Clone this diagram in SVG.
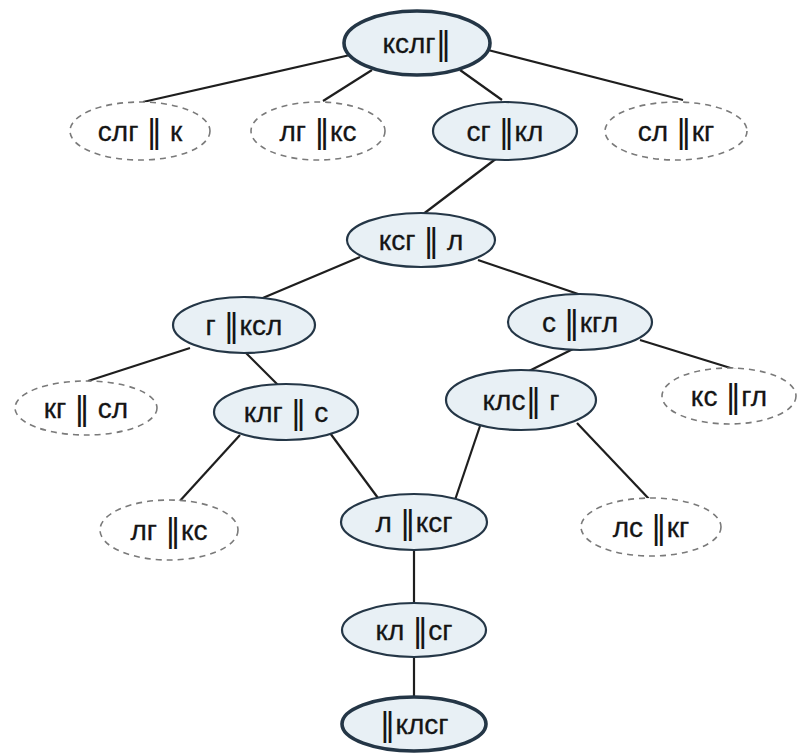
<svg xmlns="http://www.w3.org/2000/svg" width="798" height="755" viewBox="0 0 798 755">
<style>
.s{fill:#e8f0f5;stroke:#243646;stroke-width:2.2}
.b{fill:#e8f0f5;stroke:#243646;stroke-width:3.6}
.d{fill:#fff;stroke:#7a7a7a;stroke-width:1.6;stroke-dasharray:6 5}
text{font-family:"Liberation Sans","DejaVu Sans",sans-serif;font-size:28px;fill:#151515;text-anchor:middle;dominant-baseline:central;stroke:#151515;stroke-width:0.3}
.p{font-family:"DejaVu Sans",sans-serif;font-size:32px;stroke-width:0}
#edges line{stroke:#1e1e1e;stroke-width:2.2}
</style>
<rect width="798" height="755" fill="#fff"/>
<g id="edges">
<line x1="350" y1="55" x2="143" y2="102"/>
<line x1="372" y1="70" x2="323" y2="101"/>
<line x1="460" y1="70" x2="502" y2="100"/>
<line x1="488" y1="50" x2="683" y2="100"/>
<line x1="497" y1="158" x2="422" y2="215"/>
<line x1="360" y1="257" x2="258" y2="300"/>
<line x1="478" y1="260" x2="584" y2="296"/>
<line x1="190" y1="348" x2="88" y2="381"/>
<line x1="243" y1="350" x2="281" y2="388"/>
<line x1="240" y1="435" x2="178" y2="503"/>
<line x1="330" y1="433" x2="378" y2="498"/>
<line x1="575" y1="348" x2="527" y2="372"/>
<line x1="640" y1="340" x2="737" y2="370"/>
<line x1="480" y1="426" x2="455" y2="500"/>
<line x1="577" y1="423" x2="650" y2="500"/>
<line x1="414" y1="545" x2="414" y2="605"/>
<line x1="414" y1="650" x2="414" y2="700"/>
</g>
<g id="n1"><ellipse class="b" cx="417" cy="43" rx="73" ry="32"/><text x="417" y="43">кслг<tspan class="p">‖</tspan></text></g>
<g id="n2"><ellipse class="d" cx="140" cy="131" rx="70" ry="29"/><text x="140" y="131">слг <tspan class="p">‖</tspan> к</text></g>
<g id="n3"><ellipse class="d" cx="318" cy="131" rx="67" ry="29"/><text x="318" y="131">лг <tspan class="p">‖</tspan>кс</text></g>
<g id="n4"><ellipse class="s" cx="505" cy="131" rx="72" ry="29"/><text x="505" y="131">сг <tspan class="p">‖</tspan>кл</text></g>
<g id="n5"><ellipse class="d" cx="676" cy="131" rx="71" ry="29"/><text x="676" y="131">сл <tspan class="p">‖</tspan>кг</text></g>
<g id="n6"><ellipse class="s" cx="421" cy="240" rx="74" ry="27"/><text x="421" y="240">ксг <tspan class="p">‖</tspan> л</text></g>
<g id="n7"><ellipse class="s" cx="244" cy="325" rx="71" ry="28"/><text x="244" y="325">г <tspan class="p">‖</tspan>ксл</text></g>
<g id="n8"><ellipse class="s" cx="580" cy="322" rx="72" ry="28"/><text x="580" y="322">с <tspan class="p">‖</tspan>кгл</text></g>
<g id="n9"><ellipse class="d" cx="86" cy="408" rx="71" ry="27"/><text x="86" y="408">кг <tspan class="p">‖</tspan> сл</text></g>
<g id="n10"><ellipse class="s" cx="286" cy="412" rx="72" ry="28"/><text x="286" y="412">клг <tspan class="p">‖</tspan> с</text></g>
<g id="n11"><ellipse class="s" cx="521" cy="400" rx="75" ry="30"/><text x="521" y="400">клс<tspan class="p">‖</tspan> г</text></g>
<g id="n12"><ellipse class="d" cx="729" cy="396" rx="67" ry="28"/><text x="729" y="396">кс <tspan class="p">‖</tspan>гл</text></g>
<g id="n13"><ellipse class="d" cx="169" cy="530" rx="69" ry="30"/><text x="169" y="530">лг <tspan class="p">‖</tspan>кс</text></g>
<g id="n14"><ellipse class="s" cx="414" cy="522" rx="73" ry="28"/><text x="414" y="522">л <tspan class="p">‖</tspan>ксг</text></g>
<g id="n15"><ellipse class="d" cx="651" cy="527" rx="70" ry="29"/><text x="651" y="527">лс <tspan class="p">‖</tspan>кг</text></g>
<g id="n16"><ellipse class="s" cx="414" cy="630" rx="72" ry="27"/><text x="414" y="630">кл <tspan class="p">‖</tspan>сг</text></g>
<g id="n17"><ellipse class="b" cx="414" cy="724" rx="72" ry="27"/><text x="414" y="724"><tspan class="p">‖</tspan>клсг</text></g>
</svg>
